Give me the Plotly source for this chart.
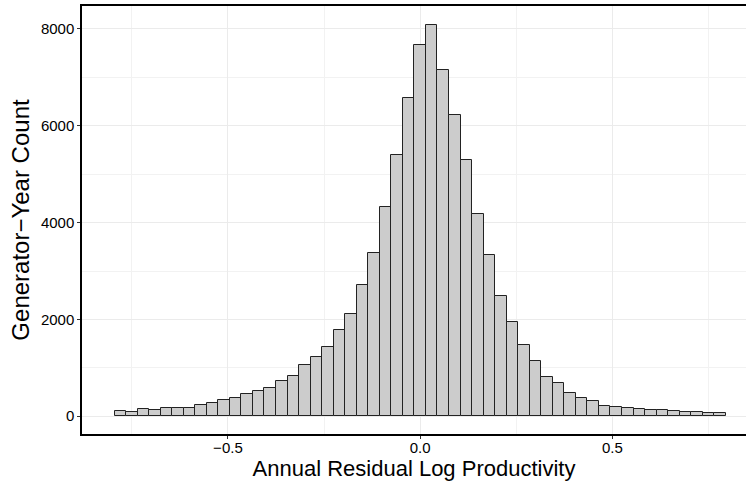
import plotly.graph_objects as go

bin_centers = [round(-0.78 + 0.03 * i, 2) for i in range(53)]
counts = [111, 82, 152, 138, 165, 173, 173, 235, 268, 338,
          385, 462, 515, 592, 736, 839, 1052, 1218, 1437, 1773,
          2111, 2715, 3375, 4317, 5396, 6571, 7678, 8091, 7142, 6227,
          5299, 4172, 3340, 2474, 1950, 1478, 1141, 804, 680, 482,
          385, 316, 220, 193, 165, 152, 138, 131, 117, 97,
          90, 62, 70]
bin_width = 0.03

x_ticks = [-0.5, 0.0, 0.5]
x_tick_labels = ["\u22120.5", "0.0", "0.5"]
y_ticks = [0, 2000, 4000, 6000, 8000]

fig = go.Figure()
fig.add_trace(go.Bar(
    x=bin_centers, y=counts, width=bin_width,
    marker=dict(color="#cccccc", line=dict(color="#222222", width=1)),
    showlegend=False,
))

font_family = "Liberation Sans, Arial, Helvetica, sans-serif"

fig.update_layout(
    width=746, height=482,
    margin=dict(l=82, r=0, t=6, b=48),
    paper_bgcolor="white", plot_bgcolor="white",
    bargap=0,
    font=dict(family=font_family, color="black"),
)
fig.update_xaxes(
    range=[-0.8796, 0.8476],
    tickvals=x_ticks, ticktext=x_tick_labels,
    tickfont=dict(size=15, color="black"),
    ticks="outside", ticklen=3, tickcolor="#333333", tickwidth=1,
    ticklabelstandoff=-4,
    showgrid=True, gridcolor="#ebebeb", gridwidth=1,
    minor=dict(tickvals=[-0.75, -0.25, 0.25, 0.75], showgrid=True, gridcolor="#f2f2f2", gridwidth=1),
    showline=True, linecolor="black", linewidth=1.5, mirror=True,
    zeroline=False,
    title=dict(text="Annual Residual Log Productivity", font=dict(size=22, color="black"), standoff=0),
)
fig.update_yaxes(
    range=[-367, 8474],
    tickvals=y_ticks,
    tickfont=dict(size=15, color="black"),
    ticks="outside", ticklen=3, tickcolor="#333333", tickwidth=1,
    showgrid=True, gridcolor="#ebebeb", gridwidth=1,
    minor=dict(tickvals=[1000, 3000, 5000, 7000], showgrid=True, gridcolor="#f2f2f2", gridwidth=1),
    showline=True, linecolor="black", linewidth=1.5,
    zeroline=False,
    title=dict(text="Generator\u2212Year Count", font=dict(size=24, color="black"), standoff=4),
)

fig.write_html("out.html")
